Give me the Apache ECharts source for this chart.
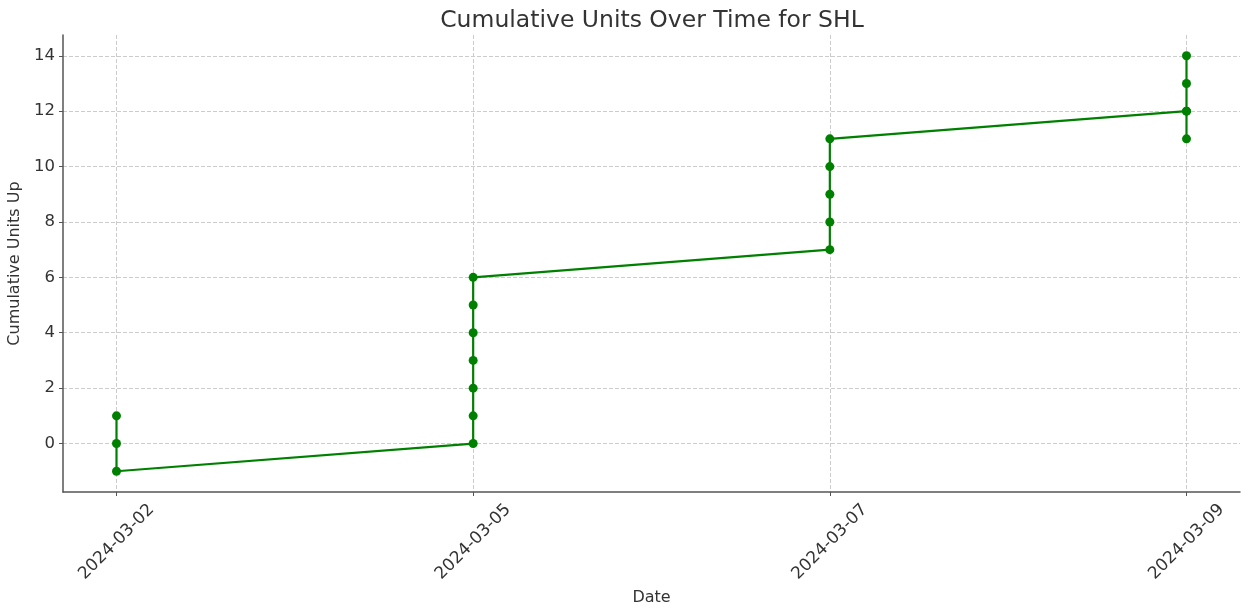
<!DOCTYPE html>
<html>
<head>
<meta charset="utf-8">
<script src="https://cdn.jsdelivr.net/npm/echarts@6/dist/echarts.min.js"></script>
<style>html,body{margin:0;padding:0;background:#fff;}#c{width:1243px;height:611px;}</style>
</head>
<body>
<div id="c"></div>
<script>
const dates = ['2024-03-02', '2024-03-05', '2024-03-07', '2024-03-09'];
const pointDates = ['2024-03-02','2024-03-02','2024-03-02',
  '2024-03-05','2024-03-05','2024-03-05','2024-03-05','2024-03-05','2024-03-05','2024-03-05',
  '2024-03-07','2024-03-07','2024-03-07','2024-03-07','2024-03-07',
  '2024-03-09','2024-03-09','2024-03-09','2024-03-09','2024-03-09'];
const cumulativeUnits = [1,0,-1, 0,1,2,3,4,5,6, 7,8,9,10,11, 12,11,12,13,14];
const yTicks = [0,2,4,6,8,10,12,14];

const seriesData = pointDates.map((d, i) => [dates.indexOf(d), cumulativeUnits[i]]);
const font = 'DejaVu Sans';
const grid = '#cccccc';

const chart = echarts.init(document.getElementById('c'));
chart.setOption({
  animation: false,
  title: {
    text: 'Cumulative Units Over Time for SHL',
    left: 647, top: 4, textAlign: 'center',
    textStyle: { fontFamily: font, fontSize: 23.5, fontWeight: 'normal', color: '#333' }
  },
  grid: { left: 63, right: 3, top: 35, bottom: 119, containLabel: false, outerBoundsMode: 'none' },
  xAxis: {
    type: 'value', min: -0.15, max: 3.15, splitNumber: 3,
    name: 'Date', nameLocation: 'middle', nameGap: 97,
    nameTextStyle: { fontFamily: font, fontSize: 16, color: '#333' },
    axisLine: { onZero: false, lineStyle: { color: '#555', width: 1.5 } },
    axisTick: { show: true, length: 4, inside: false, lineStyle: { color: '#555' } },
    axisLabel: {
      fontFamily: font, fontSize: 17, color: '#333', rotate: 45, margin: 50,
      align: 'center', verticalAlign: 'middle',
      showMinLabel: false, showMaxLabel: false,
      formatter: v => (Number.isInteger(v) && dates[v] !== undefined) ? dates[v] : ''
    },
    splitLine: { show: true, lineStyle: { type: 'dashed', width: 1,
      color: ['rgba(0,0,0,0)', grid, grid, grid, grid, 'rgba(0,0,0,0)'] } }
  },
  yAxis: {
    type: 'value', min: -1.75, max: 14.75, splitNumber: 8,
    name: 'Cumulative Units Up', nameLocation: 'middle', nameGap: 34,
    nameTextStyle: { fontFamily: font, fontSize: 16, color: '#333' },
    axisLine: { show: true, onZero: false, lineStyle: { color: '#555', width: 1.5 } },
    axisTick: { show: true, length: 4, inside: false, lineStyle: { color: '#555' } },
    axisLabel: {
      fontFamily: font, fontSize: 16.5, color: '#333', margin: 8,
      showMinLabel: false, showMaxLabel: false,
      formatter: v => yTicks.includes(v) ? String(v) : ''
    },
    splitLine: { show: true, lineStyle: { type: 'dashed', width: 1,
      color: ['rgba(0,0,0,0)', grid, grid, grid, grid, grid, grid, grid, grid, 'rgba(0,0,0,0)'] } }
  },
  series: [{
    type: 'line',
    data: seriesData,
    symbol: 'circle', symbolSize: 9,
    lineStyle: { color: '#008000', width: 2.2 },
    itemStyle: { color: '#008000' },
    z: 5
  }]
});
</script>
</body>
</html>
